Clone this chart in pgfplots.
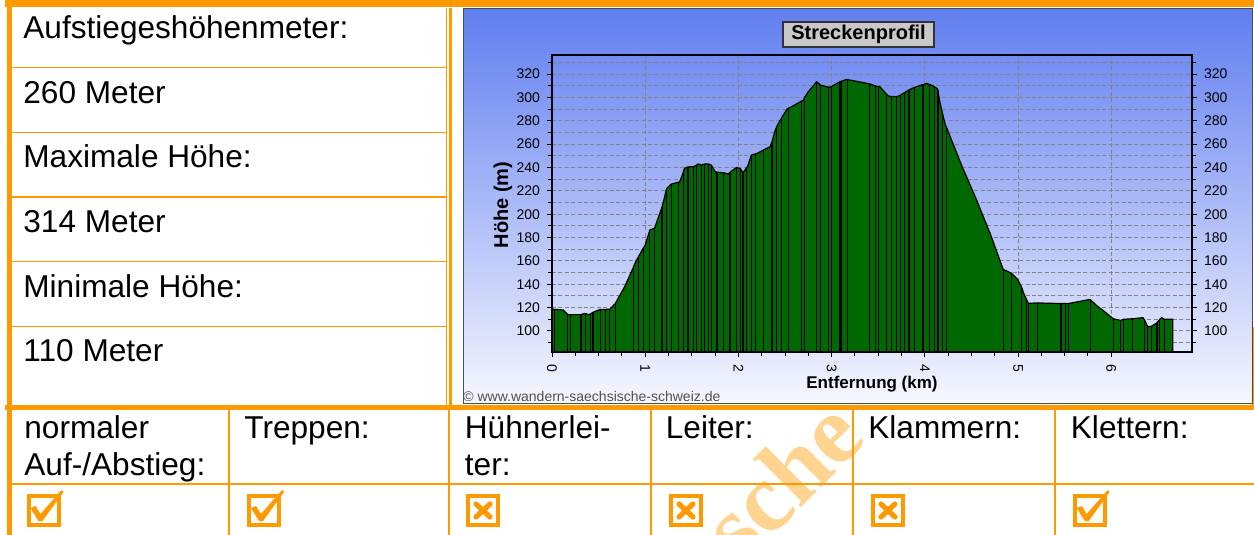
\documentclass[border=0pt]{standalone}
\usepackage{fontspec}
\setmainfont{Liberation Sans}
\newfontfamily\wmfont{Liberation Serif}
\usepackage{pgfplots}
\usepackage{pgfplotstable}
\pgfplotsset{compat=1.18}
\definecolor{tblorange}{RGB}{255,153,0}
\definecolor{wmorange}{RGB}{255,212,145}
\definecolor{hill}{RGB}{0,104,0}
\definecolor{gridgray}{RGB}{130,130,140}
\definecolor{skytop}{RGB}{96,126,240}
\definecolor{skymid}{RGB}{158,176,246}
\definecolor{skybot}{RGB}{246,247,254}
\definecolor{titlegray}{RGB}{200,200,200}
\definecolor{copygray}{RGB}{80,80,80}

\pgfplotstableread{
x h l
0.00 118.6 1
0.03 118.5 1
0.12 118.0 0
0.17 114.0 1
0.20 114.0 1
0.31 114.0 1
0.35 115.0 0
0.36 115.0 1
0.39 114.0 0
0.41 114.5 1
0.44 116.0 1
0.50 118.0 0
0.52 118.5 1
0.57 118.5 1
0.62 118.6 1
0.68 123.7 1
0.78 138.0 0
0.87 154.0 1
0.89 158.0 0
0.93 164.0 1
0.98 171.0 1
1.00 173.6 0
1.05 186.5 1
1.10 188.0 1
1.18 206.0 1
1.19 209.0 0
1.23 222.0 1
1.28 225.8 1
1.36 227.5 1
1.37 227.8 0
1.41 236.0 1
1.42 239.3 0
1.46 240.5 1
1.52 240.7 1
1.55 242.0 1
1.57 243.0 0
1.60 242.0 1
1.64 243.0 1
1.68 243.0 1
1.71 242.0 1
1.75 236.4 0
1.77 236.0 1
1.84 235.5 1
1.89 234.4 0
1.91 236.0 1
1.98 240.0 1
2.02 239.0 1
2.05 235.5 1
2.09 240.0 1
2.10 241.3 0
2.14 250.7 1
2.18 251.5 1
2.20 252.0 0
2.27 255.0 1
2.34 257.8 0
2.36 262.0 1
2.39 270.6 0
2.41 275.0 1
2.46 282.0 1
2.52 289.8 0
2.54 291.0 1
2.57 292.0 0
2.68 297.0 1
2.70 297.8 0
2.71 300.0 1
2.75 304.9 0
2.84 313.4 1
2.88 310.6 1
2.97 308.6 1
3.00 309.5 1
3.09 313.4 1
3.11 314.0 1
3.16 315.4 0
3.17 315.2 1
3.22 314.5 0
3.41 311.5 1
3.47 309.8 1
3.50 309.3 1
3.52 309.0 0
3.59 302.5 1
3.61 301.2 0
3.64 300.8 1
3.70 300.6 1
3.74 302.0 1
3.78 304.0 1
3.80 305.0 0
3.83 306.5 1
3.89 308.6 1
3.98 311.0 1
4.02 312.0 0
4.05 311.0 1
4.09 309.8 0
4.10 309.0 1
4.13 307.8 0
4.14 306.0 1
4.16 296.3 0
4.19 286.0 1
4.22 276.4 0
4.23 274.8 1
4.40 240.7 0
4.54 215.0 0
4.70 183.6 0
4.84 152.8 1
4.93 149.4 1
5.00 143.7 0
5.04 137.0 1
5.06 132.3 0
5.09 127.0 1
5.11 123.7 1
5.20 124.0 0
5.21 124.0 1
5.46 123.5 1
5.51 123.5 1
5.54 123.5 1
5.77 127.0 0
5.78 126.5 1
5.84 122.0 0
5.93 116.5 0
6.02 110.5 1
6.10 109.0 1
6.13 110.0 1
6.23 110.5 1
6.34 111.4 0
6.36 109.0 1
6.39 103.7 1
6.43 104.0 1
6.49 107.0 1
6.52 110.0 1
6.54 111.4 0
6.57 110.0 1
6.66 110.0 1
}\profile

\newcommand{\cbcheck}[1]{%
  \begin{scope}[shift={(#1,494)}]
    \draw[tblorange, line width=2pt] (2,2) rectangle (32,31);
    \fill[tblorange] (4,14) -- (9,12) -- (14,20) -- (35,-4) -- (37,-2) -- (16,27) -- (12,27) -- cycle;
  \end{scope}}
\newcommand{\cbcross}[1]{%
  \begin{scope}[shift={(#1,494)}]
    \draw[tblorange, line width=2pt] (2,2) rectangle (32,31);
    \draw[tblorange, line width=2.6pt, line cap=round] (10,10) -- (24,23) (24,10) -- (10,23);
  \end{scope}}

\begin{document}
\begin{tikzpicture}
\begin{scope}[x=0.5pt,y=-0.5pt]
  \useasboundingbox (0,0) rectangle (1254,535);
  \fill[white] (0,0) rectangle (1254,535);
  % watermark
  \node[rotate=45, anchor=base east, inner sep=0pt, text=wmorange,
        font=\wmfont\bfseries\fontsize{49}{49}\selectfont] at (869,440) {sche};
  % outer borders
  \draw[tblorange, line width=3.5pt] (5,3.5) -- (1254,3.5);
  \draw[tblorange, line width=2.5pt] (9,0) -- (9,535);
  \draw[tblorange, line width=2.5pt] (5,407.5) -- (1254,407.5);
  \draw[tblorange, line width=0.65pt] (446.7,8) -- (446.7,405);
  \draw[tblorange, line width=1.5pt] (450,8) -- (450,405);
  \draw[tblorange, line width=1.3pt] (1253,327) -- (1253,405);
  % left column rows
  \foreach \yy in {67.5,132.5,197,261.5,326.5}
    \draw[tblorange, line width=0.75pt] (11,\yy) -- (446,\yy);
  % bottom grid
  \draw[tblorange, line width=1pt] (11,483.5) -- (1254,483.5);
  \foreach \xx in {228.5,449,651,853,1055}
    \draw[tblorange, line width=1pt] (\xx,410) -- (\xx,535);
  % texts
  \begin{scope}[every node/.style={anchor=base west, inner sep=0pt, font=\fontsize{15.8}{19}\selectfont}]
    \node at (23,39) {Aufstiegeshöhenmeter:};
    \node at (23,103.5) {260 Meter};
    \node at (23,168) {Maximale Höhe:};
    \node at (23,232.5) {314 Meter};
    \node at (23,297) {Minimale Höhe:};
    \node at (23,361) {110 Meter};
    \node at (24,438) {normaler};
    \node at (24,475) {Auf-/Abstieg:};
    \node at (244,438) {Treppen:};
    \node at (464.5,438) {Hühnerlei-};
    \node at (464.5,475) {ter:};
    \node at (665.5,438) {Leiter:};
    \node at (868,438) {Klammern:};
    \node at (1070.5,438) {Klettern:};
  \end{scope}
  % checkboxes
  \cbcheck{26.5}
  \cbcheck{247}
  \cbcross{466}
  \cbcross{669}
  \cbcross{871}
  \cbcheck{1072.7}
  % chart panel
  \shade[top color=skytop, middle color=skymid, bottom color=skybot] (463,8.5) rectangle (1252,403);
  \draw[gray!60!black, line width=0.5pt] (463,8.5) rectangle (1252,403);
  \node[anchor=west, inner sep=0pt, text=copygray, font=\fontsize{7}{8}\selectfont] at (463,396) {© www.wandern-saechsische-schweiz.de};
  \coordinate (PSW) at (552,352);
\end{scope}

\begin{axis}[
  at={(PSW)}, anchor=south west,
  width=320pt, height=148.5pt, scale only axis,
  xmin=0, xmax=6.866, ymin=82, ymax=336.3,
  xtick={0,1,...,6}, minor x tick num=3,
  ytick={100,120,...,320}, minor ytick={90,110,...,330},
  xtick pos=left, ytick pos=left,
  tick align=outside,
  major tick length=2.5pt, minor tick length=1.8pt,
  tick style={black, line width=0.5pt},
  xmajorgrids, ymajorgrids, yminorgrids,
  major grid style={gridgray, dash pattern=on 2pt off 1.2pt, line width=0.5pt},
  minor grid style={gridgray, dash pattern=on 2pt off 1.2pt, line width=0.5pt},
  axis line style={line width=1pt},
  tick label style={font=\fontsize{7}{8}\selectfont},
  /pgf/number format/assume math mode=true,
  xticklabel style={rotate=-90, anchor=west},
  xlabel={Entfernung (km)},
  xlabel style={font=\bfseries\fontsize{8.5}{10}\selectfont, at={(axis description cs:0.5,-0.108)}, anchor=center},
  ylabel={Höhe (m)},
  ylabel style={font=\bfseries\fontsize{10}{12}\selectfont, at={(axis description cs:-0.0766,0.495)}, anchor=center},
  every axis title shift=0pt,
  title={Streckenprofil},
  title style={at={(axis description cs:0.479,1.069)}, anchor=center,
    font=\bfseries\fontsize{10}{12}\selectfont, draw=gray!40!black, fill=titlegray,
    minimum width=75.5pt, minimum height=12.5pt, inner sep=1pt, line width=0.6pt},
]
  \addplot[fill=hill, draw=black, line width=0.6pt] table[x=x, y=h] {\profile} \closedcycle;
  \addplot[ycomb, black, line width=0.6pt, restrict expr to domain={\thisrow{l}}{0.5:1.5}] table[x=x, y=h] {\profile};
\end{axis}

\begin{axis}[
  at={(PSW)}, anchor=south west,
  width=320pt, height=148.5pt, scale only axis,
  xmin=0, xmax=6.866, ymin=82, ymax=336.3,
  xtick=\empty,
  ytick={100,120,...,320}, minor ytick={90,110,...,330},
  ytick pos=right, yticklabel pos=right,
  tick align=outside,
  major tick length=2.5pt, minor tick length=1.8pt,
  tick style={black, line width=0.5pt},
  axis line style={line width=1pt},
  tick label style={font=\fontsize{7}{8}\selectfont},
  /pgf/number format/assume math mode=true,
]
\end{axis}
\end{tikzpicture}
\end{document}
